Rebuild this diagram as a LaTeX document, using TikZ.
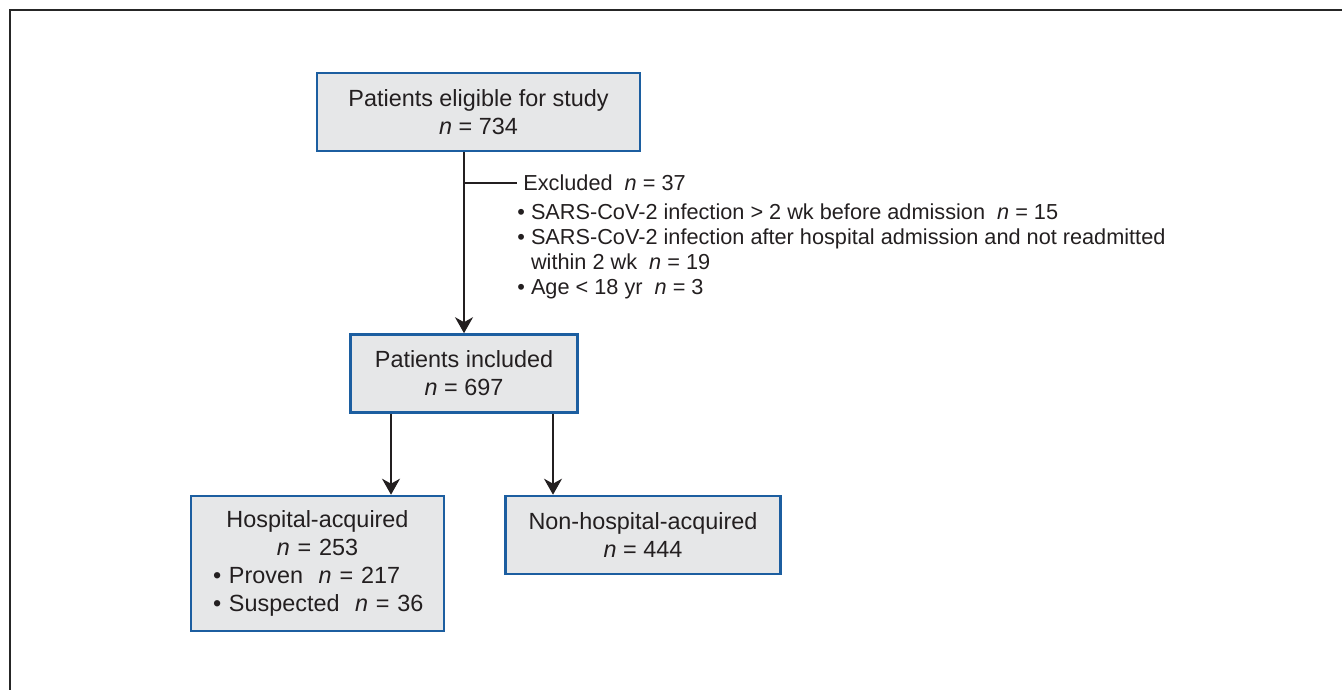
\documentclass[tikz,border=0pt]{standalone}
\usepackage{fontspec}
\setmainfont{Liberation Sans}
\usetikzlibrary{arrows.meta}
\definecolor{boxblue}{RGB}{28,94,160}
\definecolor{boxgray}{RGB}{230,231,232}
\definecolor{inkgray}{RGB}{35,31,32}
\newcommand{\bitem}[1]{\makebox[104.5pt][l]{•\ #1}}

\begin{document}
\begin{tikzpicture}[x=0.5pt,y=-0.5pt,
    flowbox/.style={draw=boxblue, fill=boxgray, line width=1.3pt, inner sep=0pt,
        align=center, text=inkgray, font=\fontsize{11.7}{14}\selectfont},
    arr/.style={-{Stealth[length=8pt,width=9pt,inset=2.5pt]}, line width=0.9pt, draw=inkgray},
    note/.style={inner sep=0pt, align=left, text=inkgray, font=\fontsize{10.85}{12.5}\selectfont}]
    \useasboundingbox (0,0) rectangle (1342,690);

    % Frame
    \draw[line width=1pt, draw=black!85] (1342,10) -- (10,10) -- (10,690);

    % Define boxes
    \node[flowbox, minimum width=161.5pt, minimum height=39pt] (elig) at (478.5,112)
        {Patients eligible for study\\\textit{n} = 734};
    \node[flowbox, minimum width=113.5pt, minimum height=39pt] (incl) at (464,373.5)
        {Patients included\\\textit{n} = 697};
    \node[flowbox, minimum width=126.5pt, minimum height=67.5pt, text width=104.5pt, inner xsep=11pt] (hosp) at (317.5,563.5)
        {Hospital-acquired\\\textit{n} = 253\\\bitem{Proven\ \ \textit{n} = 217}\\\bitem{Suspected\ \ \textit{n} = 36}};
    \node[flowbox, minimum width=137.5pt, minimum height=39pt] (nonhosp) at (643,535)
        {Non-hospital-acquired\\\textit{n} = 444};

    % Excluded patients
    \node[note, anchor=west, inner xsep=3pt] (excl) at (517,183) {Excluded\ \ \textit{n} = 37};
    \node[note, anchor=north west] (reasons) at (517,203)
        {• SARS-CoV-2 infection > 2 wk before admission\ \ \textit{n} = 15\\
         • SARS-CoV-2 infection after hospital admission and not readmitted\\
         \phantom{•\ }within 2 wk\ \ \textit{n} = 19\\
         • Age < 18 yr\ \ \textit{n} = 3};

    % Draw connectors
    \coordinate (a1) at (391,0);
    \coordinate (a2) at (553,0);
    \draw[arr] (incl.north |- elig.south) -- (incl.north);
    \draw[line width=0.9pt, draw=inkgray] (incl.north |- excl.west) -- (excl.west);
    \draw[arr] (incl.south -| a1) -- (hosp.north -| a1);
    \draw[arr] (incl.south -| a2) -- (nonhosp.north -| a2);

\end{tikzpicture}
\end{document}
